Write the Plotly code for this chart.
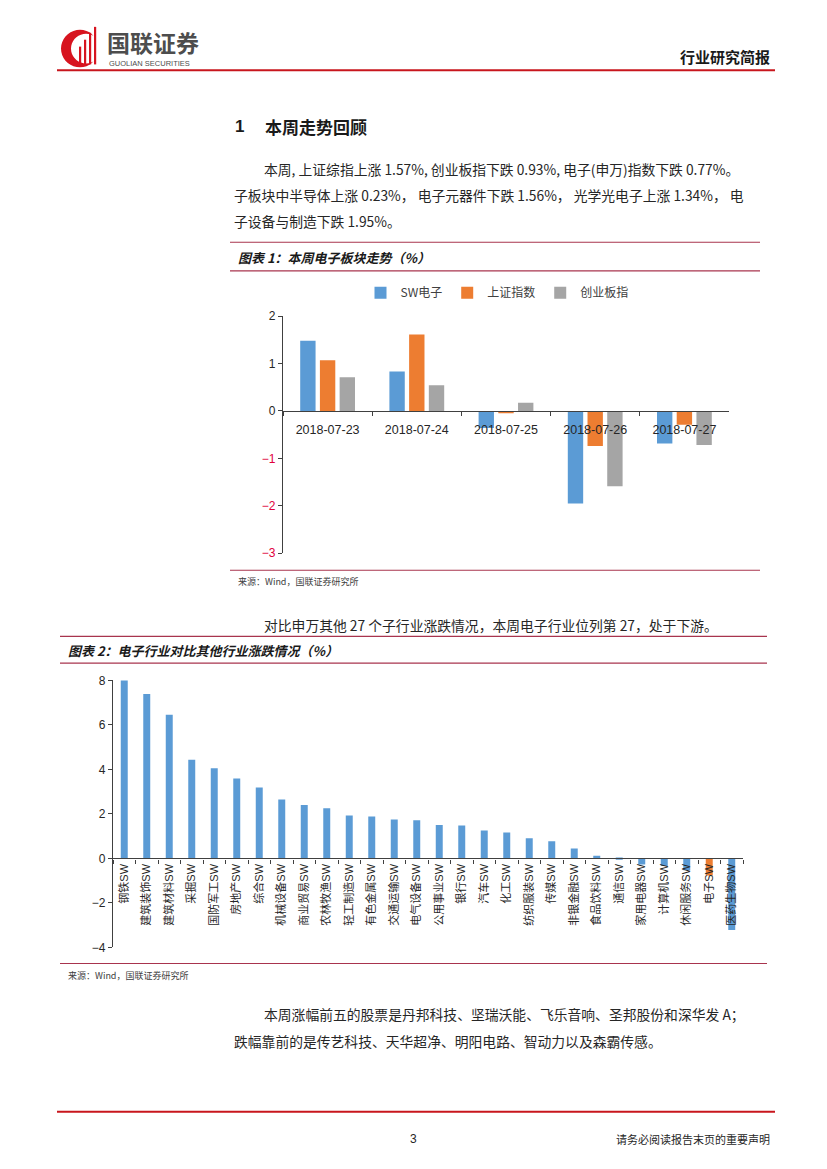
import math
import plotly.graph_objects as go

W, H = 827, 1169
OFF = 8  # page body margin offset


def px(x):
    return (x - OFF) / W


def py(y):
    return 1 - (y - OFF) / H


# ---------------- data ----------------
dates = ["2018-07-23", "2018-07-24", "2018-07-25", "2018-07-26", "2018-07-27"]
sw_elec = [1.48, 0.83, -0.36, -1.95, -0.69]
sh_index = [1.07, 1.61, -0.05, -0.74, -0.29]
gem_index = [0.71, 0.54, 0.17, -1.59, -0.72]
series_names = ["SW电子", "上证指数", "创业板指"]
series_colors = ["#5B9BD5", "#ED7D31", "#A5A5A5"]
y1_ticks = [2, 1, 0, -1, -2, -3]

industries = ["钢铁SW", "建筑装饰SW", "建筑材料SW", "采掘SW", "国防军工SW", "房地产SW",
              "综合SW", "机械设备SW", "商业贸易SW", "农林牧渔SW", "轻工制造SW", "有色金属SW",
              "交通运输SW", "电气设备SW", "公用事业SW", "银行SW", "汽车SW", "化工SW",
              "纺织服装SW", "传媒SW", "非银金融SW", "食品饮料SW", "通信SW", "家用电器SW",
              "计算机SW", "休闲服务SW", "电子SW", "医药生物SW"]
industry_change = [8.02, 7.39, 6.46, 4.44, 4.05, 3.59, 3.19, 2.65, 2.40, 2.26, 1.93, 1.88,
                   1.75, 1.71, 1.50, 1.48, 1.25, 1.17, 0.91, 0.77, 0.45, 0.12, -0.06, -0.27,
                   -0.34, -0.53, -0.77, -3.22]
highlight = "电子SW"

FONT = "Liberation Sans, Noto Sans CJK SC, Arial, sans-serif"
CJK = "Noto Sans CJK SC, Liberation Sans, sans-serif"

fig = go.Figure()

# ---------------- chart 1 ----------------
for name, vals, col in zip(series_names, [sw_elec, sh_index, gem_index], series_colors):
    fig.add_trace(go.Bar(x=dates, y=vals, name=name, marker_color=col,
                         marker_line_width=0, xaxis="x", yaxis="y"))

# ---------------- chart 2 ----------------
bar_colors = ["#ED7D31" if n == highlight else "#5B9BD5" for n in industries]
fig.add_trace(go.Bar(x=industries, y=industry_change, marker_color=bar_colors,
                     marker_line_width=0, showlegend=False, xaxis="x2", yaxis="y2",
                     width=0.31))

d1 = [py(552.7), py(312.7)]
zero1 = d1[0] + (0 - (-3)) / 5 * (d1[1] - d1[0])
d2 = [py(951.7), py(681.5)]
zero2 = d2[0] + (0 - (-4)) / 12 * (d2[1] - d2[0])

y1_text = [f'<span style="color:#E0003C">−{abs(v)}</span>' if v < 0 else str(v) for v in y1_ticks]

axis_col = "#404040"
fig.update_layout(
    width=W, height=H, margin=dict(l=0, r=0, t=0, b=0),
    paper_bgcolor="white", plot_bgcolor="rgba(0,0,0,0)",
    font=dict(family=FONT, size=12, color="#262626"),
    barmode="group", bargap=0.337, bargroupgap=0.22,
    xaxis=dict(type="category", domain=[px(283), px(729)], anchor="free", position=zero1,
               showline=True, linecolor=axis_col, linewidth=1.2,
               ticks="outside", tickson="boundaries", ticklen=4, tickcolor=axis_col,
               showgrid=False, tickfont=dict(size=12.5, color="#262626"),
               ticklabelstandoff=7, layer="above traces", fixedrange=True),
    yaxis=dict(domain=d1, range=[-3, 2], anchor="x", showline=True, linecolor=axis_col,
               linewidth=1.2, ticks="outside", ticklen=4, tickcolor=axis_col,
               tickvals=y1_ticks, ticktext=y1_text, showgrid=False, zeroline=False,
               tickfont=dict(size=12, color="#262626"), fixedrange=True),
    xaxis2=dict(type="category", domain=[px(113), px(743)], anchor="free", position=zero2,
                showline=True, linecolor=axis_col, linewidth=1.2,
                ticks="outside", tickson="boundaries", ticklen=4, tickcolor=axis_col,
                showgrid=False, tickangle=-90, tickfont=dict(size=11, color="#262626"),
                layer="above traces", fixedrange=True),
    yaxis2=dict(domain=d2, range=[-4, 8], dtick=2, anchor="x2", showline=True,
                linecolor=axis_col, linewidth=1.2, ticks="outside", ticklen=4,
                tickcolor=axis_col, showgrid=False, zeroline=False,
                tickfont=dict(size=12, color="#262626"), fixedrange=True),
    legend=dict(orientation="h", x=px(497), xanchor="center", y=py(289), yanchor="middle",
                font=dict(size=12, color="#404040", family=CJK), itemwidth=30,
                traceorder="normal", bgcolor="rgba(0,0,0,0)"),
)

shapes = []


def hline(y, x0, x1, color, width):
    shapes.append(dict(type="line", xref="paper", yref="paper", x0=px(x0), x1=px(x1),
                       y0=py(y), y1=py(y), line=dict(color=color, width=width)))


RED = "#C8161D"
MAROON = "#A8344E"
hline(64, 57, 775, RED, 2)
hline(238, 230, 760, MAROON, 1.2)
hline(267, 230, 760, MAROON, 1.2)
hline(570, 230, 760, MAROON, 1.2)
hline(637, 60, 767, MAROON, 1.2)
hline(664, 60, 767, MAROON, 1.2)
hline(968, 60, 767, MAROON, 1.2)
hline(1118, 57, 775, RED, 2)

# logo crescent
cx, cy, r1 = 80, 42, 19
cx2, r2 = 86, 15
pts = []
for a in range(60, 301, 10):
    t = math.radians(a)
    pts.append((cx + r1 * math.cos(t), cy - r1 * math.sin(t)))
for a in range(300, 59, -10):
    t = math.radians(a)
    pts.append((cx2 + r2 * math.cos(t), cy - r2 * math.sin(t)))
path = "M " + " L ".join(f"{px(x):.5f},{py(y):.5f}" for x, y in pts) + " Z"
shapes.append(dict(type="path", xref="paper", yref="paper", path=path,
                   fillcolor="#D7141F", line=dict(width=0)))
for bx, top in [(79, 40), (84, 33), (89, 26), (94, 20)]:
    shapes.append(dict(type="rect", xref="paper", yref="paper", x0=px(bx), x1=px(bx + 2.2),
                       y0=py(58), y1=py(top), fillcolor="#D7141F", line=dict(width=0)))

annotations = []


def text(x, y, s, size=14, color="#262626", anchor="left", family=CJK, bold=False, italic=False):
    if bold:
        s = f"<b>{s}</b>"
    if italic:
        s = f"<i>{s}</i>"
    annotations.append(dict(x=px(x), y=py(y), xref="paper", yref="paper", text=s,
                            showarrow=False, xanchor=anchor, yanchor="middle",
                            font=dict(size=size, color=color, family=family)))


text(105, 35, "国联证券", size=23, color="#4D4D4D", bold=True)
text(107, 57.5, "GUOLIAN SECURITIES", size=7.5, color="#4D4D4D", family=FONT)
text(772, 50, "行业研究简报", size=15, color="#1A1A1A", anchor="right", bold=True)

text(233, 121, "1", size=17, color="#1A1A1A", family=FONT, bold=True)
text(263, 121, "本周走势回顾", size=17, color="#1A1A1A", bold=True)
text(262, 164, "本周, 上证综指上涨 1.57%, 创业板指下跌 0.93%, 电子(申万)指数下跌 0.77%。", size=13.8)
text(232, 190, "子板块中半导体上涨 0.23%， 电子元器件下跌 1.56%， 光学光电子上涨 1.34%， 电", size=13.8)
text(232, 216, "子设备与制造下跌 1.95%。", size=13.8)

text(236, 253, "图表 1：本周电子板块走势（%）", size=13, color="#1A1A1A", bold=True, italic=True)
text(236, 581, "来源：Wind，国联证券研究所", size=9, color="#404040")

text(262, 625, "对比申万其他 27 个子行业涨跌情况，本周电子行业位列第 27，处于下游。", size=13.8)
text(66, 651, "图表 2：电子行业对比其他行业涨跌情况（%）", size=13, color="#1A1A1A", bold=True, italic=True)
text(66, 980, "来源：Wind，国联证券研究所", size=9, color="#404040")

text(262, 1019, "本周涨幅前五的股票是丹邦科技、坚瑞沃能、飞乐音响、圣邦股份和深华发 A；", size=13.8)
text(232, 1046, "跌幅靠前的是传艺科技、天华超净、明阳电路、智动力以及森霸传感。", size=13.8)

text(413, 1146, "3", size=12, color="#262626", anchor="center", family=FONT)
text(772, 1146, "请务必阅读报告末页的重要声明", size=11, color="#262626", anchor="right")

fig.update_layout(shapes=shapes, annotations=annotations)
fig.write_html("out.html")
